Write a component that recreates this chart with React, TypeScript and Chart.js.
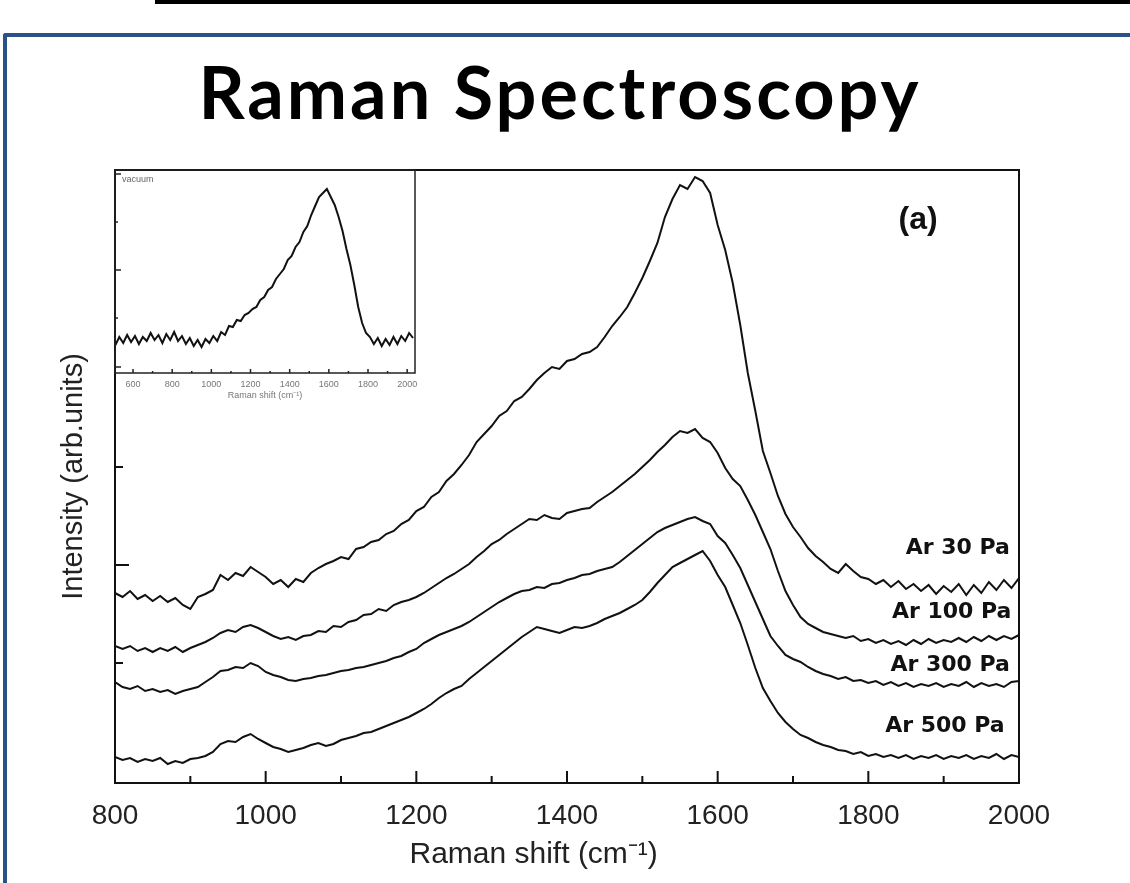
import React, { useEffect, useRef } from "react";
import { Chart, registerables } from "chart.js";

Chart.register(...registerables);

// ---------- main chart data ----------
const ramanShift = [
  800, 810, 820, 830, 840, 850, 860, 870, 880, 890,
  900, 910, 920, 930, 940, 950, 960, 970, 980, 990,
  1000, 1010, 1020, 1030, 1040, 1050, 1060, 1070, 1080, 1090,
  1100, 1110, 1120, 1130, 1140, 1150, 1160, 1170, 1180, 1190,
  1200, 1210, 1220, 1230, 1240, 1250, 1260, 1270, 1280, 1290,
  1300, 1310, 1320, 1330, 1340, 1350, 1360, 1370, 1380, 1390,
  1400, 1410, 1420, 1430, 1440, 1450, 1460, 1470, 1480, 1490,
  1500, 1510, 1520, 1530, 1540, 1550, 1560, 1570, 1580, 1590,
  1600, 1610, 1620, 1630, 1640, 1650, 1660, 1670, 1680, 1690,
  1700, 1710, 1720, 1730, 1740, 1750, 1760, 1770, 1780, 1790,
  1800, 1810, 1820, 1830, 1840, 1850, 1860, 1870, 1880, 1890,
  1900, 1910, 1920, 1930, 1940, 1950, 1960, 1970, 1980, 1990,
  2000,
];

const ar30Pa = [
  190, 186, 192, 184, 188, 182, 187, 181, 185, 178,
  174, 186, 189, 193, 208, 203, 210, 207, 216, 211,
  206, 199, 203, 196, 204, 201, 210, 215, 219, 222,
  226, 224, 234, 236, 241, 243, 249, 252, 259, 263,
  272, 276, 286, 291, 302, 309, 318, 328, 341, 349,
  357, 367, 372, 382, 386, 394, 403, 410, 416, 414,
  422, 424, 429, 431, 436, 446, 457, 466, 476, 490,
  505, 522, 540, 566, 584, 598, 594, 606, 602, 590,
  558, 533, 500, 458, 410, 372, 332, 310, 287, 269,
  256, 246, 235, 227, 221, 214, 210, 219, 212, 206,
  204, 199, 203, 196, 202, 194, 199, 192, 198, 189,
  197, 191, 199, 188, 198, 190, 201, 193, 203, 195,
  205,
];

const ar100Pa = [
  137, 134, 137, 132, 135, 131, 135, 132, 136, 131,
  135, 138, 141, 145, 150, 153, 151, 156, 158, 155,
  151, 147, 144, 146, 143, 147, 148, 152, 151, 157,
  156, 161, 163, 168, 169, 174, 172, 178, 181, 183,
  186, 190, 195, 200, 205, 209, 214, 219, 226, 232,
  239, 243, 249, 254, 259, 264, 263, 268, 265, 264,
  270, 272, 274, 275, 281, 286, 291, 297, 303, 309,
  316, 323, 331, 338, 346, 352, 350, 354, 345, 341,
  330, 315, 304, 297, 283, 268, 251, 234, 212, 192,
  178, 166, 159, 155, 151, 149, 147, 145, 147, 142,
  144, 140, 143, 139, 142, 138, 143, 139, 144, 140,
  143, 141, 145, 141, 146, 142, 147, 143, 147, 144,
  148,
];

const ar300Pa = [
  101, 96, 94, 97, 92, 94, 91, 93, 89, 92,
  94, 96, 101, 106, 112, 113, 116, 115, 120, 117,
  111, 108, 106, 103, 102, 104, 105, 107, 108, 110,
  112, 113, 115, 116, 118, 120, 122, 125, 127, 131,
  134, 140, 144, 148, 151, 154, 157, 161, 166, 171,
  176, 181, 185, 189, 192, 193, 196, 195, 199, 200,
  203, 205, 208, 209, 212, 214, 216, 221, 227, 233,
  239, 245, 251, 255, 258, 261, 264, 266, 262, 259,
  247, 240, 228, 215, 198, 181, 164, 147, 137, 128,
  124, 121, 116, 112, 109, 107, 104, 106, 102, 103,
  100, 102, 98, 101, 97, 100, 96, 99, 97, 100,
  96, 99, 97, 101, 96, 100, 97, 99, 96, 101,
  102,
];

const ar500Pa = [
  26, 23, 25, 21, 24, 22, 25, 19, 22, 20,
  24, 25, 27, 31, 39, 42, 41, 46, 49, 44,
  40, 36, 34, 31, 33, 35, 38, 40, 37, 39,
  43, 45, 47, 50, 51, 54, 57, 60, 63, 66,
  70, 74, 79, 85, 90, 94, 97, 104, 110, 116,
  122, 128, 134, 140, 146, 151, 156, 154, 152, 150,
  153, 156, 155, 157, 160, 164, 167, 170, 174, 178,
  183, 191, 200, 208, 216, 220, 224, 228, 232, 222,
  208, 196, 178, 160, 138, 115, 95, 82, 70, 61,
  54, 48, 45, 41, 38, 36, 33, 32, 29, 31,
  27, 29, 26, 28, 25, 28, 24, 27, 25, 28,
  24, 27, 25, 28, 24, 27, 25, 29, 24, 28,
  26,
];

const seriesNames = ["Ar 30 Pa", "Ar 100 Pa", "Ar 300 Pa", "Ar 500 Pa"];
const labelX = [1988, 1990, 1988, 1981];
const labelY = [235, 171, 118, 57];
const panelLabel = "(a)";
const panelLabelX = 1866;
const panelLabelY = 563;

const xTickValues = [800, 1000, 1200, 1400, 1600, 1800, 2000];
const xMinorTickValues = [900, 1100, 1300, 1500, 1700, 1900];
const yMajorTickValues = [218];
const yMinorTickValues = [120, 316];

const xAxisTitle = "Raman shift (cm\u207B\u00B9)";
const yAxisTitle = "Intensity (arb.units)";
const pageTitle = "Raman Spectroscopy";

// ---------- inset data ----------
const insetShift = [
  510, 530, 550, 570, 590, 610, 630, 650, 670, 690,
  710, 730, 750, 770, 790, 810, 830, 850, 870, 890,
  910, 930, 950, 970, 990, 1010, 1030, 1050, 1070, 1090,
  1110, 1130, 1150, 1170, 1190, 1210, 1230, 1250, 1270, 1290,
  1310, 1330, 1350, 1370, 1390, 1410, 1430, 1450, 1470, 1490,
  1510, 1530, 1550, 1570, 1590, 1610, 1630, 1650, 1670, 1690,
  1710, 1730, 1750, 1770, 1790, 1810, 1830, 1850, 1870, 1890,
  1910, 1930, 1950, 1970, 1990, 2010, 2030,
];
const insetVacuum = [
  28, 36, 30, 38, 31, 37, 29, 36, 32, 40,
  33, 38, 30, 39, 33, 41, 32, 37, 29, 35,
  27, 33, 26, 34, 30, 37, 32, 41, 38, 47,
  46, 53, 52, 58, 60, 64, 66, 73, 76, 83,
  86, 94, 99, 104, 113, 117, 126, 131, 141, 147,
  158, 167, 176, 180, 184, 176, 168, 156, 142, 124,
  108, 88, 66, 50, 40, 36, 29, 35, 27, 34,
  28, 36, 29, 37, 32, 40, 35,
];
const insetLabel = "vacuum";
const insetXTicks = [600, 800, 1000, 1200, 1400, 1600, 1800, 2000];
const insetXMinorTicks = [700, 900, 1100, 1300, 1500, 1700, 1900];
const insetYMajorTicks = [6, 103, 199];
const insetYMinorTicks = [55, 151];

const AXIS_FONT = "'Liberation Sans', Arial, sans-serif";

const plainNumber = (v: any) => String(v);

const mainDecor = {
  id: "mainDecor",
  afterDraw(chart: any) {
    const { ctx, chartArea: a, scales } = chart;
    const x = scales.x;
    const y = scales.y;
    ctx.save();
    ctx.strokeStyle = "#111";
    ctx.lineWidth = 2;
    ctx.strokeRect(a.left, a.top, a.right - a.left, a.bottom - a.top);
    ctx.beginPath();
    xTickValues.forEach((v) => {
      const px = x.getPixelForValue(v);
      ctx.moveTo(px, a.bottom);
      ctx.lineTo(px, a.bottom - 12);
    });
    xMinorTickValues.forEach((v) => {
      const px = x.getPixelForValue(v);
      ctx.moveTo(px, a.bottom);
      ctx.lineTo(px, a.bottom - 7);
    });
    yMajorTickValues.forEach((v) => {
      const py = y.getPixelForValue(v);
      ctx.moveTo(a.left, py);
      ctx.lineTo(a.left + 14, py);
    });
    yMinorTickValues.forEach((v) => {
      const py = y.getPixelForValue(v);
      ctx.moveTo(a.left, py);
      ctx.lineTo(a.left + 8, py);
    });
    ctx.stroke();

    ctx.fillStyle = "#111";
    ctx.font = "bold 22px 'DejaVu Sans', sans-serif";
    ctx.textAlign = "right";
    ctx.textBaseline = "middle";
    seriesNames.forEach((t, i) => {
      ctx.fillText(t, x.getPixelForValue(labelX[i]), y.getPixelForValue(labelY[i]));
    });
    ctx.font = "bold 32px 'Liberation Sans', Arial, sans-serif";
    ctx.textAlign = "center";
    ctx.fillText(panelLabel, x.getPixelForValue(panelLabelX), y.getPixelForValue(panelLabelY));
    ctx.restore();
  },
};

const insetDecor = {
  id: "insetDecor",
  afterDraw(chart: any) {
    const { ctx, chartArea: a, scales } = chart;
    const x = scales.x;
    const y = scales.y;
    ctx.save();
    ctx.strokeStyle = "#222";
    ctx.lineWidth = 1.5;
    ctx.strokeRect(a.left, a.top, a.right - a.left, a.bottom - a.top);
    ctx.beginPath();
    insetXTicks.forEach((v) => {
      const px = x.getPixelForValue(v);
      ctx.moveTo(px, a.bottom);
      ctx.lineTo(px, a.bottom - 4);
    });
    insetXMinorTicks.forEach((v) => {
      const px = x.getPixelForValue(v);
      ctx.moveTo(px, a.bottom);
      ctx.lineTo(px, a.bottom - 2);
    });
    insetYMajorTicks.forEach((v) => {
      const py = y.getPixelForValue(v);
      ctx.moveTo(a.left, py);
      ctx.lineTo(a.left + 6, py);
    });
    insetYMinorTicks.forEach((v) => {
      const py = y.getPixelForValue(v);
      ctx.moveTo(a.left, py);
      ctx.lineTo(a.left + 3, py);
    });
    ctx.stroke();
    ctx.fillStyle = "#666";
    ctx.font = "9px 'Liberation Sans', Arial, sans-serif";
    ctx.textAlign = "left";
    ctx.textBaseline = "middle";
    ctx.fillText(insetLabel, a.left + 7, a.top + 10);
    ctx.restore();
  },
};

export default function App() {
  const mainRef = useRef<HTMLCanvasElement | null>(null);
  const insetRef = useRef<HTMLCanvasElement | null>(null);

  useEffect(() => {
    if (!mainRef.current || !insetRef.current) return;
    const series = [ar30Pa, ar100Pa, ar300Pa, ar500Pa];
    const main = new Chart(mainRef.current, {
      type: "line",
      data: {
        datasets: series.map((arr, i) => ({
          label: seriesNames[i],
          data: ramanShift.map((xv, j) => ({ x: xv, y: arr[j] })),
          borderColor: "#111",
          borderWidth: 2,
          pointRadius: 0,
          tension: 0,
          fill: false,
        })),
      },
      options: {
        responsive: false,
        animation: false,
        events: [],
        layout: { padding: { top: 20, right: 111, left: 0, bottom: 0 } },
        plugins: { legend: { display: false }, tooltip: { enabled: false }, title: { display: false } },
        scales: {
          x: {
            type: "linear",
            min: 800,
            max: 2000,
            afterBuildTicks: (scale: any) => {
              scale.ticks = xTickValues.map((v) => ({ value: v }));
            },
            afterFit: (scale: any) => {
              scale.height = 100;
            },
            grid: { display: false, drawTicks: false },
            border: { display: false },
            ticks: {
              padding: 16,
              color: "#222",
              maxRotation: 0,
              autoSkip: false,
              callback: plainNumber,
              font: { family: AXIS_FONT, size: 28 },
            },
            title: {
              display: true,
              text: xAxisTitle + "\u00A0\u00A0\u00A0\u00A0\u00A0\u00A0\u00A0\u00A0",
              color: "#222",
              font: { family: AXIS_FONT, size: 30 },
              padding: { top: 0, bottom: 10 },
            },
          },
          y: {
            type: "linear",
            min: 0,
            max: 613,
            afterFit: (scale: any) => {
              scale.width = 115;
            },
            grid: { display: false, drawTicks: false },
            border: { display: false },
            ticks: { display: false },
            title: {
              display: true,
              text: yAxisTitle,
              color: "#222",
              font: { family: AXIS_FONT, size: 29 },
              padding: { top: 57, bottom: 0 },
            },
          },
        },
      },
      plugins: [mainDecor],
    } as any);

    const inset = new Chart(insetRef.current, {
      type: "line",
      data: {
        datasets: [
          {
            label: insetLabel,
            data: insetShift.map((xv, j) => ({ x: xv, y: insetVacuum[j] })),
            borderColor: "#111",
            borderWidth: 2,
            pointRadius: 0,
            tension: 0,
            fill: false,
          },
        ],
      },
      options: {
        responsive: false,
        animation: false,
        events: [],
        layout: { padding: { top: 10, right: 15, left: 0, bottom: 0 } },
        plugins: { legend: { display: false }, tooltip: { enabled: false } },
        scales: {
          x: {
            type: "linear",
            min: 508,
            max: 2040,
            afterBuildTicks: (scale: any) => {
              scale.ticks = insetXTicks.map((v) => ({ value: v }));
            },
            afterFit: (scale: any) => {
              scale.height = 37;
            },
            grid: { display: false, drawTicks: false },
            border: { display: false },
            ticks: {
              padding: 6,
              color: "#777",
              maxRotation: 0,
              autoSkip: false,
              callback: plainNumber,
              font: { family: AXIS_FONT, size: 9 },
            },
            title: {
              display: true,
              text: xAxisTitle,
              color: "#777",
              font: { family: AXIS_FONT, size: 9 },
              padding: { top: 0, bottom: 9 },
            },
          },
          y: {
            type: "linear",
            min: 0,
            max: 203,
            afterFit: (scale: any) => {
              scale.width = 15;
            },
            grid: { display: false, drawTicks: false },
            border: { display: false },
            ticks: { display: false },
          },
        },
      },
      plugins: [insetDecor],
    } as any);

    return () => {
      main.destroy();
      inset.destroy();
    };
  }, []);

  return (
    <div
      style={{
        position: "fixed",
        left: 0,
        top: 0,
        width: 1130,
        height: 883,
        overflow: "hidden",
        background: "#fff",
      }}
    >
      <div style={{ position: "absolute", left: 155, top: 0, width: 975, height: 4, background: "#000" }} />
      <div
        style={{
          position: "absolute",
          left: 3,
          top: 33,
          width: 1140,
          height: 870,
          borderTop: "4px solid #2c5186",
          borderLeft: "4px solid #2c5186",
          borderTopLeftRadius: 3,
          boxSizing: "border-box",
        }}
      />
      <div
        style={{
          position: "absolute",
          left: 0,
          top: 55,
          width: 1120,
          textAlign: "center",
          fontFamily: "Lato, 'Open Sans', sans-serif",
          fontWeight: 700,
          fontSize: 72,
          lineHeight: "72px",
          letterSpacing: "3px",
          color: "#000",
        }}
      >
        {pageTitle}
      </div>
      <canvas
        ref={mainRef}
        width={1130}
        height={733}
        style={{ position: "absolute", left: 0, top: 150, width: 1130, height: 733 }}
      />
      <canvas
        ref={insetRef}
        width={330}
        height={250}
        style={{ position: "absolute", left: 100, top: 160, width: 330, height: 250 }}
      />
    </div>
  );
}
